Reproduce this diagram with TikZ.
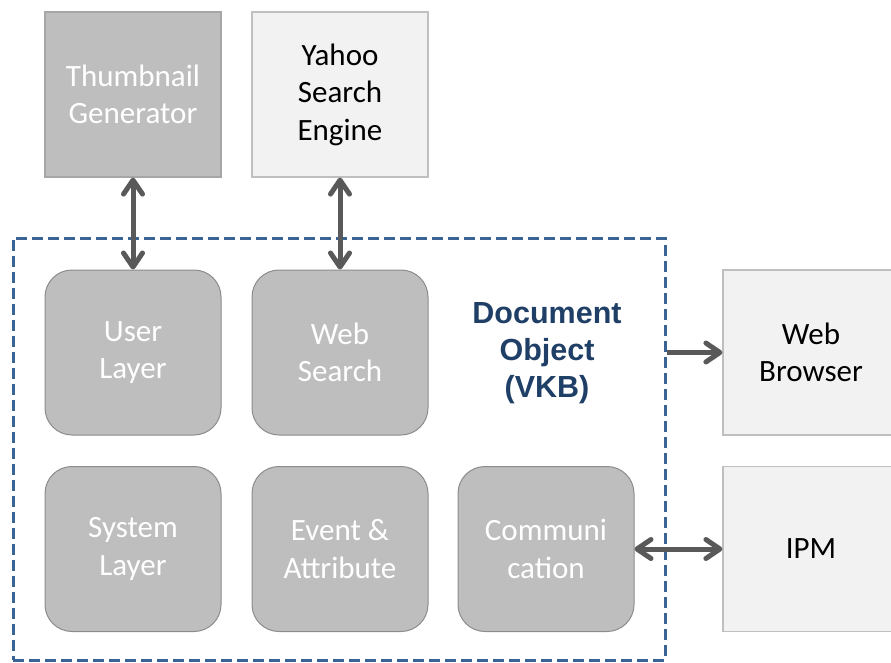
\documentclass[tikz,border=0pt]{standalone}
\usepackage{fontspec}
\setmainfont{Carlito}
\newfontfamily\headfont{Liberation Sans}
\usetikzlibrary{arrows.meta}
\definecolor{boxgray}{HTML}{BEBEBE}
\definecolor{boxedge}{HTML}{A6A6A6}
\definecolor{roundedge}{HTML}{8C8C8C}
\definecolor{lightfill}{HTML}{F2F2F2}
\definecolor{lightedge}{HTML}{BFBFBF}
\definecolor{frameblue}{HTML}{3A6496}
\definecolor{titleblue}{HTML}{1F3F66}
\definecolor{arrowgray}{HTML}{595959}
\tikzset{
  lbl/.style={font=\fontsize{31}{37.5}\selectfont, align=center, inner sep=0pt},
  darkbox/.style={lbl, rectangle, fill=boxgray, draw=boxedge, line width=1.2pt,
    text=white, minimum width=176pt, minimum height=165pt},
  lightbox/.style={lbl, rectangle, fill=lightfill, draw=lightedge, line width=1.2pt,
    text=black, minimum width=176pt, minimum height=165pt},
  module/.style={lbl, rectangle, rounded corners=27pt, fill=boxgray, draw=roundedge,
    line width=1pt, text=white, minimum width=176pt, minimum height=165pt},
  barb/.tip={Straight Barb[length=14pt,width=19pt,line cap=round,line join=round]},
  link/.style={draw=arrowgray, line width=5pt, -barb},
  duplex/.style={draw=arrowgray, line width=5pt, barb-barb},
}
\begin{document}
\begin{tikzpicture}[x=1pt,y=-1pt]
\useasboundingbox (0,0) rectangle (891,663);
\fill[white] (0,0) rectangle (891,663);

% external components
\node[darkbox]  (thumb) at (133,94.5) {Thumbnail\\Generator};
\node[lightbox] (yahoo) at (340,94.5) {Yahoo\\Search\\Engine};
\node[lightbox] (wb)    at (811,352.5) {Web\\Browser};
\node[lightbox] (ipm)   at (811,549) {IPM};

% document object frame
\node[draw=frameblue, line width=3pt, dash pattern=on 11pt off 5pt,
      minimum width=652pt, minimum height=422pt, inner sep=0pt] (vkb) at (339,449) {};
\node[font=\headfont\bfseries\fontsize{30.5}{37}\selectfont, text=titleblue,
      align=center, inner sep=0pt] (title) at (547,353) {Document\\Object\\(VKB)};

% internal modules
\node[module] (user)  at (133,352.5) {User\\Layer};
\node[module] (web)   at (340,352.5) {Web\\Search};
\node[module] (sys)   at (133,549) {System\\Layer};
\node[module] (event) at (340,549) {Event \&\\Attribute};
\node[module] (comm)  at (546,549) {Communi\\cation};

% connectors
\draw[duplex] (thumb.south) -- (user.north);
\draw[duplex] (yahoo.south) -- (web.north);
\draw[link] (vkb.east |- wb.west) -- (wb.west);
\draw[duplex] (comm.east) -- (ipm.west);
\end{tikzpicture}
\end{document}
